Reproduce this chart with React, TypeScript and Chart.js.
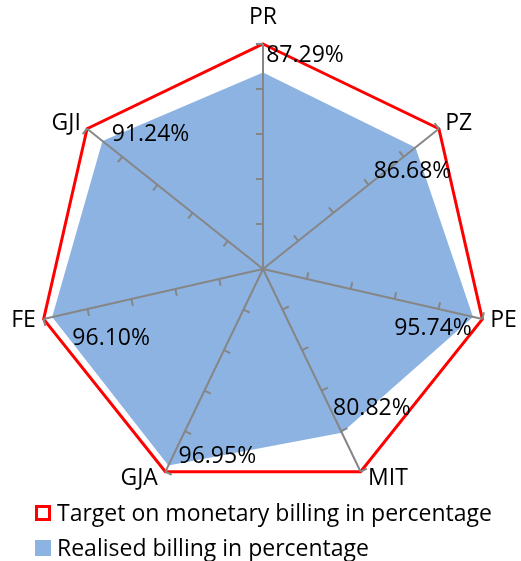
import React, { useEffect, useRef } from 'react';
import { Chart, registerables } from 'chart.js';

Chart.register(...registerables);

const categories = ['PR', 'PZ', 'PE', 'MIT', 'GJA', 'FE', 'GJI'];
const targetValues = [100, 100, 100, 100, 100, 100, 100];
const realisedValues = [87.29, 86.68, 95.74, 80.82, 96.95, 96.1, 91.24];
const seriesNames = ['Target on monetary billing in percentage', 'Realised billing in percentage'];
const scaleMin = 0;
const scaleMax = 100;
const scaleStep = 20;

// label placement (pixels, relative to each realised point)
const labelOffsets: [number, number][] = [
  [42, -17], [-3, 24], [-40, 12], [30, -24], [49, -9], [59, 21], [48, -7],
];

const FONT = '"Open Sans", "DejaVu Sans", sans-serif';
const FONT_SIZE = 23;
const RED = '#ff0000';
const BLUE = '#8db3e2';
const GRAY = '#868686';

const decorPlugin = {
  id: 'decor',
  afterDraw(chart: any) {
    const ctx = chart.ctx;
    const scale = chart.scales.r;
    const n = categories.length;
    ctx.save();
    // tick marks on each spoke
    ctx.strokeStyle = GRAY;
    ctx.lineWidth = 2;
    for (let i = 0; i < n; i++) {
      const end = scale.getPointPosition(i, scale.drawingArea);
      const dx = end.x - scale.xCenter;
      const dy = end.y - scale.yCenter;
      const len = Math.hypot(dx, dy);
      const ux = dx / len, uy = dy / len;
      const px = uy, py = -ux;
      for (const t of scale.ticks) {
        if (t.value <= scaleMin) continue;
        const p = scale.getPointPositionForValue(i, t.value);
        ctx.beginPath();
        ctx.moveTo(p.x, p.y);
        ctx.lineTo(p.x + px * 7, p.y + py * 7);
        ctx.stroke();
      }
    }
    // category labels
    ctx.fillStyle = '#000000';
    ctx.font = `${FONT_SIZE}px ${FONT}`;
    for (let i = 0; i < n; i++) {
      const end = scale.getPointPosition(i, scale.drawingArea);
      const sx = end.x - scale.xCenter;
      const sy = end.y - scale.yCenter;
      const isTop = Math.abs(sx) < 2 && sy < 0;
      const p = scale.getPointPosition(i, scale.drawingArea + (isTop ? 27 : 8));
      ctx.textBaseline = 'middle';
      ctx.textAlign = isTop ? 'center' : sx > 0 ? 'left' : 'right';
      const extra = !isTop && sy > scale.drawingArea * 0.8 ? (sx > 0 ? 4 : -4) : 0;
      ctx.fillText(categories[i], p.x + extra, p.y);
    }
    // value labels
    const meta = chart.getDatasetMeta(1);
    ctx.textAlign = 'center';
    ctx.textBaseline = 'middle';
    meta.data.forEach((pt: any, i: number) => {
      const [ox, oy] = labelOffsets[i];
      ctx.fillText(realisedValues[i].toFixed(2) + '%', pt.x + ox, pt.y + oy);
    });
    ctx.restore();
  },
};

export default function App() {
  const ref = useRef<HTMLCanvasElement | null>(null);
  useEffect(() => {
    if (!ref.current) return;
    const chart = new Chart(ref.current, {
      type: 'radar',
      data: {
        labels: categories,
        datasets: [
          {
            label: seriesNames[0],
            data: targetValues,
            borderColor: RED,
            borderWidth: 3,
            backgroundColor: 'rgba(0,0,0,0)',
            fill: false,
            pointRadius: 0,
            tension: 0,
          },
          {
            label: seriesNames[1],
            data: realisedValues,
            borderColor: BLUE,
            borderWidth: 0,
            backgroundColor: BLUE,
            fill: true,
            pointRadius: 0,
            tension: 0,
          },
        ],
      },
      options: {
        responsive: false,
        animation: false,
        devicePixelRatio: 1,
        layout: { padding: { left: 38, right: 33, top: 44, bottom: 67 } },
        plugins: { legend: { display: false }, tooltip: { enabled: false }, title: { display: false } },
        scales: {
          r: {
            min: scaleMin,
            max: scaleMax,
            ticks: { stepSize: scaleStep, display: false, z: 1 },
            grid: { display: false, z: 1 },
            angleLines: { display: true, color: GRAY, lineWidth: 2 },
            pointLabels: { display: false },
          },
        },
      },
      plugins: [decorPlugin],
    } as any);
    return () => chart.destroy();
  }, []);

  const legendRow = (box: React.CSSProperties, text: string) => (
    <div style={{ display: 'flex', alignItems: 'center', height: 35 }}>
      <span style={{ display: 'inline-block', width: 16, height: 16, boxSizing: 'border-box', marginRight: 6, ...box }} />
      <span>{text}</span>
    </div>
  );

  return (
    <div style={{ position: 'fixed', left: 0, top: 0, width: 521, height: 561, background: '#ffffff', overflow: 'hidden' }}>
      <canvas ref={ref} width={521} height={561} style={{ position: 'absolute', left: 0, top: 0, width: 521, height: 561 }} />
      <div style={{ position: 'absolute', left: 35, top: 495, fontFamily: FONT, fontSize: FONT_SIZE, lineHeight: '35px', color: '#000', whiteSpace: 'nowrap' }}>
        {legendRow({ border: `3px solid ${RED}`, background: '#fff' }, seriesNames[0])}
        {legendRow({ background: BLUE }, seriesNames[1])}
      </div>
    </div>
  );
}
